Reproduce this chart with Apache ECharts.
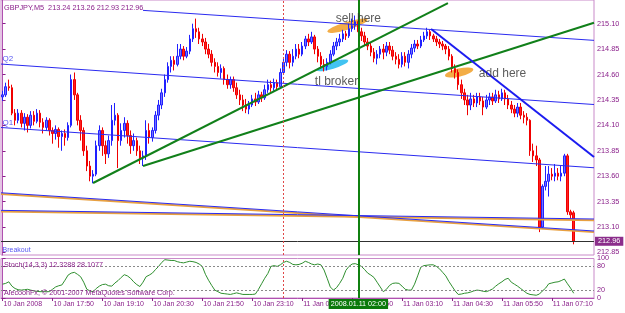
<!DOCTYPE html>
<html><head><meta charset="utf-8">
<script src="https://cdn.jsdelivr.net/npm/echarts@6/dist/echarts.min.js"></script>
<style>html,body{margin:0;padding:0;background:#fff}#c{width:625px;height:313px}</style>
</head><body><div id="c"></div>
<script>
// ---- data ----
const header = 'GBPJPY,M5  213.24 213.26 212.93 212.96';
const stochHeader = 'Stoch(14,3,3) 12.3288 28.1077';
const copyright = 'AlecoohFx, \u00a9 2001-2007 MetaQuotes Software Corp.';
const tickLabels = ['10 Jan 2008','10 Jan 17:50','10 Jan 19:10','10 Jan 20:30','10 Jan 21:50','10 Jan 23:10','11 Jan 00:30','11 Jan 01:50','11 Jan 03:10','11 Jan 04:30','11 Jan 05:50','11 Jan 07:10'];
const TICK_STEP = 16;
const BAR_SLOTS = 190;
const priceTicks = [215.10,214.85,214.60,214.35,214.10,213.85,213.60,213.35,213.10,212.85];
const stochTicks = [100,80,20,0];
const stochLevels = [80,20];
const lastPrice = 212.96;
const dayBreakBar = 90;
const markedBar = 114;
const markedLabel = '2008.01.11 02:00';
// candles: [open, close, low, high]
const candles = [
[214.38,214.40,214.34,214.44],
[214.40,214.48,214.38,214.52],[214.48,214.47,214.44,214.55],[214.47,214.22,214.20,214.50],[214.22,214.15,214.10,214.26],
[214.15,214.22,214.12,214.26],[214.22,214.12,214.08,214.25],[214.12,214.18,214.05,214.22],[214.18,214.10,214.03,214.21],
[214.10,214.20,214.07,214.24],[214.20,214.14,214.10,214.24],[214.14,214.22,214.12,214.26],[214.22,214.13,214.08,214.25],
[214.13,214.08,214.02,214.17],[214.08,214.15,214.05,214.18],[214.15,214.05,214.00,214.17],[214.05,214.02,213.92,214.08],
[214.02,214.06,213.96,214.10],[214.06,213.99,213.88,214.08],[213.99,214.02,213.85,214.05],[214.02,213.98,213.90,214.06],
[213.98,214.10,213.95,214.13],[214.10,214.55,214.08,214.60],[214.55,214.40,214.35,214.62],[214.40,214.15,214.10,214.42],
[214.15,214.05,213.95,214.20],[214.05,213.85,213.80,214.08],[213.85,213.70,213.65,213.90],[213.70,213.60,213.55,213.75],
[213.60,213.62,213.53,213.66],[213.62,213.90,213.60,213.95],[213.90,214.05,213.85,214.10],[214.05,213.90,213.80,214.08],
[213.90,213.82,213.72,213.95],[213.82,213.95,213.78,214.00],[213.95,214.15,213.90,214.30],[214.15,214.20,214.10,214.32],
[214.20,213.95,213.68,214.22],[213.95,214.05,213.90,214.12],[214.05,214.12,213.98,214.18],[214.12,214.00,213.92,214.15],
[214.00,213.90,213.82,214.05],[213.90,213.95,213.85,214.02],[213.95,213.85,213.80,213.98],[213.85,213.78,213.72,213.90],
[213.78,213.80,213.70,213.85],[213.80,214.05,213.76,214.15],[214.05,213.98,213.92,214.12],[213.98,214.05,213.94,214.08],
[214.05,214.20,214.02,214.24],[214.20,214.30,214.15,214.35],[214.30,214.42,214.26,214.46],[214.42,214.55,214.38,214.60],
[214.55,214.68,214.52,214.72],[214.68,214.74,214.62,214.78],[214.74,214.70,214.64,214.78],[214.70,214.78,214.68,214.90],
[214.78,214.85,214.75,214.90],[214.85,214.78,214.74,214.88],[214.78,214.83,214.76,214.87],[214.83,214.95,214.80,214.99],
[214.95,215.05,214.92,215.10],[215.05,215.02,214.96,215.15],[215.02,214.95,214.90,215.06],[214.95,214.92,214.88,215.00],
[214.92,214.85,214.80,214.96],[214.85,214.80,214.76,214.90],[214.80,214.72,214.68,214.84],[214.72,214.68,214.62,214.76],
[214.68,214.62,214.58,214.72],[214.62,214.66,214.56,214.70],[214.66,214.55,214.50,214.68],[214.55,214.50,214.46,214.60],
[214.50,214.55,214.46,214.58],[214.55,214.47,214.43,214.58],[214.47,214.40,214.36,214.52],[214.40,214.35,214.30,214.45],
[214.35,214.30,214.24,214.40],[214.30,214.26,214.22,214.36],[214.26,214.30,214.21,214.34],[214.30,214.36,214.28,214.40],
[214.36,214.33,214.29,214.42],[214.33,214.40,214.31,214.44],[214.40,214.37,214.33,214.43],[214.37,214.45,214.35,214.50],
[214.45,214.50,214.42,214.55],[214.50,214.47,214.43,214.54],[214.47,214.52,214.44,214.56],[214.52,214.48,214.45,214.55],
[214.48,214.62,214.46,214.66],[214.62,214.72,214.60,214.76],[214.72,214.80,214.68,214.84],[214.80,214.72,214.66,214.83],
[214.72,214.78,214.68,214.85],[214.78,214.85,214.75,214.90],[214.85,214.80,214.76,214.90],[214.80,214.88,214.78,214.92],
[214.88,214.95,214.85,214.98],[214.95,214.92,214.88,215.00],[214.92,214.97,214.90,215.02],[214.97,214.85,214.80,214.99],
[214.85,214.78,214.72,214.88],[214.78,214.70,214.66,214.82],[214.70,214.68,214.63,214.75],[214.68,214.72,214.64,214.76],
[214.72,214.80,214.70,214.84],[214.80,214.88,214.78,214.92],[214.88,214.92,214.84,214.96],[214.92,214.95,214.88,215.00],
[214.95,215.00,214.92,215.04],[215.00,214.98,214.94,215.03],[214.98,215.05,214.96,215.10],[215.05,215.08,215.02,215.15],
[215.08,215.12,215.04,215.18],[215.12,215.02,214.98,215.16],[215.02,214.98,214.93,215.06],[214.98,214.92,214.88,215.02],
[214.92,214.88,214.84,214.96],[214.88,214.82,214.78,214.92],[214.82,214.76,214.72,214.86],[214.76,214.80,214.70,214.84],
[214.80,214.85,214.76,214.88],[214.85,214.82,214.75,214.90],[214.82,214.88,214.78,214.92],[214.88,214.84,214.80,214.92],
[214.84,214.78,214.74,214.88],[214.78,214.75,214.70,214.82],[214.75,214.70,214.66,214.80],[214.70,214.78,214.67,214.82],
[214.78,214.72,214.68,214.82],[214.72,214.80,214.66,214.84],[214.80,214.86,214.76,214.90],[214.86,214.90,214.82,214.94],
[214.90,214.88,214.85,214.94],[214.88,214.94,214.86,214.98],[214.94,214.98,214.92,215.02],[214.98,215.02,214.95,215.06],
[215.02,214.98,214.94,215.04],[214.98,214.95,214.92,215.00],[214.95,214.92,214.88,214.98],[214.92,214.90,214.86,214.95],
[214.90,214.88,214.84,214.93],[214.88,214.85,214.80,214.90],[214.85,214.78,214.74,214.88],[214.78,214.66,214.62,214.80],
[214.66,214.62,214.56,214.70],[214.62,214.50,214.45,214.65],[214.50,214.42,214.36,214.55],[214.42,214.35,214.30,214.46],
[214.35,214.30,214.20,214.40],[214.30,214.36,214.25,214.42],[214.36,214.32,214.28,214.40],[214.32,214.38,214.28,214.42],
[214.38,214.34,214.30,214.42],[214.34,214.28,214.20,214.38],[214.28,214.35,214.26,214.40],[214.35,214.38,214.30,214.42],
[214.38,214.34,214.30,214.42],[214.34,214.40,214.32,214.45],[214.40,214.36,214.32,214.44],[214.36,214.42,214.34,214.46],
[214.42,214.36,214.30,214.45],[214.36,214.30,214.26,214.40],[214.30,214.26,214.22,214.34],[214.26,214.22,214.18,214.30],
[214.22,214.28,214.18,214.32],[214.28,214.20,214.16,214.32],[214.20,214.18,214.12,214.24],[214.18,214.15,214.10,214.22],
[214.15,213.85,213.80,214.16],[213.85,213.80,213.74,213.92],[213.80,213.76,213.70,213.90],[213.76,213.10,213.05,213.78],
[213.10,213.50,213.08,213.52],[213.50,213.55,213.46,213.70],[213.55,213.62,213.40,213.70],[213.62,213.60,213.56,213.68],
[213.60,213.63,213.55,213.72],[213.63,213.60,213.56,213.68],[213.60,213.63,213.55,213.70],[213.63,213.80,213.60,213.82],
[213.80,213.25,213.22,213.82],[213.25,213.22,213.18,213.27],[213.24,212.96,212.93,213.26]
];
const stoch = [35,37,41,30,24,21,20,21,22,20,18,17,16,16,16,16,22,28,31,33,45,58,63,65,60,54,40,22,18,16,24,30,34,35,31,30,38,44,52,59,56,50,41,34,29,40,54,58,63,72,80,90,97,96,95,95,92,90,89,91,93,92,90,86,80,60,45,32,20,16,12,11,10,9,11,13,11,9,9,9,9,10,22,36,50,62,80,82,80,84,90,93,90,85,84,85,88,93,90,86,84,86,84,71,50,28,20,26,37,50,70,80,86,87,84,80,72,63,58,52,40,28,16,22,32,37,38,37,30,22,20,20,35,56,78,82,83,84,84,80,74,65,56,42,30,18,9,10,12,13,15,18,20,19,17,16,19,23,30,36,41,47,50,40,35,30,24,18,12,9,8,7,10,18,25,36,38,40,41,44,48,36,25,12];
// trendlines: [[bar, price], [bar, price]]
const channelTop   = [[45,215.231],[189.5,214.936]];
const channelQ2    = [[-0.5,214.703],[189.5,214.305]];
const channelQ1    = [[-0.5,214.079],[189.5,213.683]];
const lowerA       = [[-0.5,213.437],[189.5,213.061]];
const lowerAOrange = [[-0.5,213.425],[189.5,213.050]];
const lowerB       = [[-0.5,213.264],[189.5,213.179]];
const lowerBOrange = [[-0.5,213.252],[189.5,213.168]];
const greenSteep   = [[29,213.533],[142.7,215.303]];
const greenShallow = [[45,213.700],[189.5,215.109]];
const downTrend    = [[137.3,215.047],[189.5,213.789]];
// annotations
const notes = [['sell here',114,215.15],['tl broker',107,214.53],['add here',160.2,214.61]];
const sideLabels = [['Q2',0,214.752,8],['Q1',0,214.123,8],['Breakout',0,212.874,7]];
const ellipses = [[110.5,215.08,42,8,17,'#f2a432'],[105.7,214.69,33,7,17,'#2ebdf0'],[146.3,214.62,29,8,13,'#f2a432']];

// ---- chart ----
const PURPLE = '#8a1f8a';
const FONT = 'Liberation Sans';
const cats = Array.from({length: BAR_SLOTS}, (_, i) => String(i));
const tickOn = (idx) => idx % TICK_STEP === 0 && idx / TICK_STEP < tickLabels.length;

function seg(data, color, width, z) {
  return {type:'line', xAxisIndex:1, yAxisIndex:0, data, symbol:'none', silent:true, z: z || 4,
    lineStyle:{color, width}, animation:false};
}

const chart = echarts.init(document.getElementById('c'), null, {renderer:'canvas'});
chart.setOption({
  animation:false,
  backgroundColor:'#ffffff',
  textStyle:{fontFamily:FONT},
  title:[
    {text:header, left:4, top:4, padding:0, textStyle:{fontSize:7.3, fontWeight:'normal', color:PURPLE, fontFamily:FONT}},
    {text:stochHeader, left:4, top:262, padding:0, textStyle:{fontSize:7.2, fontWeight:'normal', color:PURPLE, fontFamily:FONT}},
    {text:copyright, left:4, top:289.5, padding:0, textStyle:{fontSize:7.2, fontWeight:'normal', color:PURPLE, fontFamily:FONT}}
  ],
  grid:[
    {left:1, top:0, width:593, height:255, show:true, borderColor:'#c98ac9', borderWidth:1, backgroundColor:'#fff'},
    {left:1, top:258.5, width:593, height:39.5, show:true, borderColor:'#c98ac9', borderWidth:1, backgroundColor:'#fff'}
  ],
  xAxis:[
    {type:'category', gridIndex:0, data:cats, boundaryGap:true, show:false},
    {type:'value', gridIndex:0, min:-0.5, max:BAR_SLOTS-0.5, show:false},
    {type:'category', gridIndex:1, data:cats, boundaryGap:true,
      axisLine:{show:true, lineStyle:{color:'#b050b0'}},
      axisTick:{show:true, interval:tickOn, alignWithLabel:true, length:3, lineStyle:{color:PURPLE}},
      axisLabel:{interval:tickOn, formatter:(v, idx) => tickLabels[idx / TICK_STEP] || '', align:'left', margin:3,
        fontSize:7, color:PURPLE, fontFamily:FONT, padding:[0,0,0,1]},
      splitLine:{show:false}},
    {type:'value', gridIndex:1, min:-0.5, max:BAR_SLOTS-0.5, show:false}
  ],
  yAxis:[
    {type:'value', gridIndex:0, position:'right', min:212.825, max:215.333, scale:true,
      axisLine:{show:true, lineStyle:{color:'#b050b0'}},
      axisTick:{show:true, customValues:priceTicks, length:3, lineStyle:{color:PURPLE}},
      axisLabel:{customValues:priceTicks, formatter:v => v.toFixed(2), margin:3, fontSize:7.3, color:PURPLE, fontFamily:FONT},
      splitLine:{show:false}},
    {type:'value', gridIndex:1, position:'right', min:0, max:100,
      axisLine:{show:true, lineStyle:{color:'#b050b0'}},
      axisTick:{show:true, customValues:stochTicks, length:3, lineStyle:{color:PURPLE}},
      axisLabel:{customValues:stochTicks, margin:3, fontSize:7.2, color:PURPLE, fontFamily:FONT},
      splitLine:{show:false}}
  ],
  series:[
    // ellipses (behind candles)
    {type:'scatter', xAxisIndex:1, yAxisIndex:0, z:1, silent:true,
      data: ellipses.map(e => ({value:[e[0], e[1]], symbol:'circle', symbolSize:[e[2], e[3]], symbolRotate:e[4],
        itemStyle:{color:e[5], opacity:0.9}}))},
    {type:'candlestick', xAxisIndex:0, yAxisIndex:0, z:2, data:candles, barWidth:2,
      itemStyle:{color:'#7272ff', color0:'#ff2020', borderColor:'#2020ff', borderColor0:'#f00000', borderWidth:1},
      markLine:{symbol:['none','none'], silent:true, animation:false,
        data:[{yAxis:lastPrice, lineStyle:{color:'#303030', width:1, type:'solid'},
          label:{show:true, position:'end', formatter:lastPrice.toFixed(2), distance:1, backgroundColor:'#8b2d8b',
            color:'#fff', padding:[1,3,1,3], fontSize:7.3, fontFamily:FONT}}]}},
    seg(lowerAOrange, '#e8a040', 2, 3),
    seg(lowerBOrange, '#e8a040', 2, 3),
    seg(channelTop, '#2b2bf0', 1),
    seg(channelQ2, '#2b2bf0', 1),
    seg(channelQ1, '#2b2bf0', 1),
    seg(lowerA, '#2b2bf0', 1),
    seg(lowerB, '#2b2bf0', 1),
    seg(greenSteep, '#11801a', 2),
    seg(greenShallow, '#11801a', 2),
    seg(downTrend, '#1c1cf0', 2),
    // vertical markers in main pane
    {type:'line', xAxisIndex:1, yAxisIndex:0, data:[[markedBar, lastPrice]], symbol:'none', lineStyle:{width:0}, z:5,
      markLine:{symbol:['none','none'], silent:true, animation:false, label:{show:false},
        data:[{xAxis:dayBreakBar, lineStyle:{color:'#e04848', width:1, type:[2,2]}},
              {xAxis:markedBar, lineStyle:{color:'#108010', width:2, type:'solid'}}]}},
    // text notes
    {type:'scatter', xAxisIndex:1, yAxisIndex:0, z:6, silent:true, symbolSize:0,
      data: notes.map(n => ({value:[n[1], n[2]], label:{show:true, position:'inside', formatter:n[0],
        fontSize:12, color:'#333', fontFamily:FONT}}))},
    {type:'scatter', xAxisIndex:1, yAxisIndex:0, z:6, silent:true, symbolSize:0,
      data: sideLabels.map(n => ({value:[n[1], n[2]], label:{show:true, position:'right', distance:0, formatter:n[0],
        fontSize:n[3], color:'#2b2bf0', fontFamily:FONT}}))},
    // stochastic
    {type:'line', xAxisIndex:2, yAxisIndex:1, data:stoch, symbol:'none', z:3,
      lineStyle:{color:'#2f8f2f', width:1},
      markLine:{symbol:['none','none'], silent:true, animation:false, label:{show:false},
        data: stochLevels.map(l => ({yAxis:l, lineStyle:{color:'#8a8a8a', width:1, type:[2,2]}}))}},
    {type:'line', xAxisIndex:3, yAxisIndex:1, data:[[markedBar, 50]], symbol:'none', lineStyle:{width:0}, z:8,
      markLine:{symbol:['none','none'], silent:true, animation:false,
        data:[{xAxis:dayBreakBar, lineStyle:{color:'#e04848', width:1, type:[2,2]}, label:{show:false}},
              {xAxis:markedBar, lineStyle:{color:'#108010', width:2, type:'solid'},
               label:{show:true, position:'start', formatter:markedLabel, distance:1, backgroundColor:'#0a7a0a',
                 color:'#fff', padding:[2,2,1,2], fontSize:7.2, fontFamily:FONT}}]}}
  ]
});
</script></body></html>
